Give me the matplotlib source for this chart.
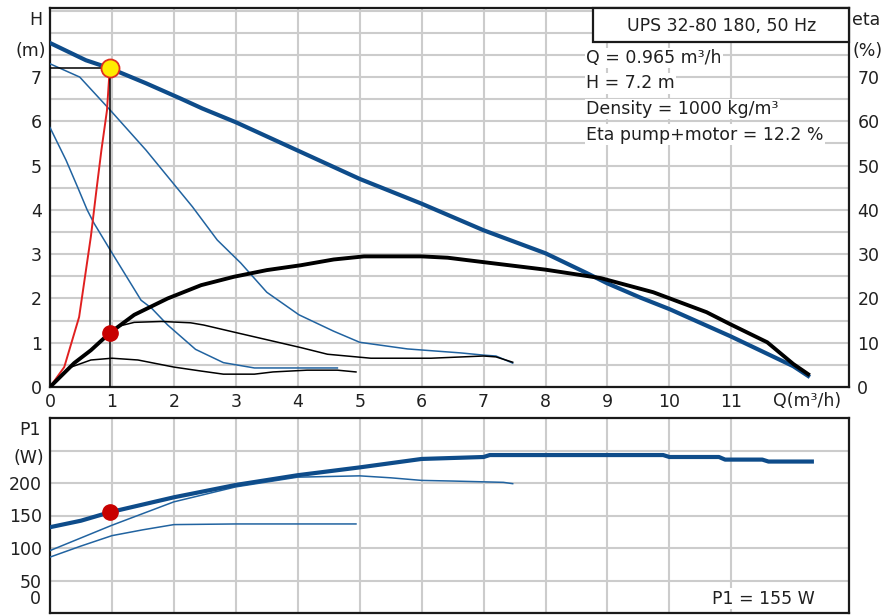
import matplotlib
matplotlib.use("Agg")
import matplotlib.pyplot as plt
from matplotlib.patches import Rectangle
from matplotlib.transforms import blended_transform_factory

plt.rcParams['font.family'] = ['DejaVu Sans']

# operating point
q_op = 0.965
h_op = 7.2
eta_op = 12.2
p_op = 155

# head curves (m)
q_h_max = [0, 0.58, 0.965, 1.55, 2.1, 2.46, 3, 4, 5, 6, 7, 8, 8.67, 9, 9.53, 10, 10.98, 12.0, 12.24]
h_max = [7.77, 7.38, 7.2, 6.86, 6.52, 6.29, 5.98, 5.34, 4.7, 4.14, 3.54, 3.02, 2.57, 2.34, 2.02, 1.76, 1.15, 0.47, 0.25]
q_h_2 = [0, 0.48, 1.0, 1.55, 2.3, 2.7, 3.08, 3.5, 4.02, 4.58, 5.0, 5.77, 6.63, 7.0, 7.2, 7.47]
h_2 = [7.3, 7.0, 6.21, 5.35, 4.07, 3.32, 2.8, 2.14, 1.63, 1.26, 1.01, 0.86, 0.77, 0.72, 0.70, 0.54]
q_h_1 = [0, 0.26, 0.45, 0.6, 0.71, 1.0, 1.47, 1.64, 1.9, 2.35, 2.8, 3.3, 4.05, 4.64]
h_1 = [5.86, 5.12, 4.5, 4.0, 3.7, 3.03, 1.96, 1.78, 1.4, 0.85, 0.55, 0.43, 0.43, 0.43]

# system curve
q_sys = [0, 0.23, 0.47, 0.66, 0.75, 0.83, 0.92, 0.965]
h_sys = [0, 0.45, 1.58, 3.4, 4.45, 5.35, 6.25, 7.2]

# efficiency curves (%)
q_eta_max = [0, 0.39, 0.66, 0.965, 1.36, 1.9, 2.44, 2.97, 3.5, 4.05, 4.58, 5.07, 6, 6.42, 7, 8, 8.89, 9.74, 10.6, 10.98, 11.58, 12, 12.24]
eta_max = [0, 5.4, 8.3, 12.2, 16.3, 20.0, 23.0, 24.9, 26.4, 27.5, 28.8, 29.5, 29.5, 29.2, 28.2, 26.5, 24.6, 21.4, 16.9, 14.2, 10.1, 5.2, 2.9]
q_eta_2 = [0, 0.39, 0.66, 0.965, 1.1, 1.36, 1.8, 2.27, 2.48, 3.0, 4.05, 4.48, 5.18, 6.15, 7.0, 7.2, 7.47]
eta_2 = [0, 5.4, 8.3, 12.0, 13.7, 14.6, 14.8, 14.5, 14.0, 12.3, 8.9, 7.4, 6.5, 6.5, 7.0, 6.8, 5.6]
q_eta_1 = [0, 0.34, 0.66, 1.0, 1.42, 2.0, 2.44, 2.8, 3.3, 3.6, 4.15, 4.64, 4.94]
eta_1 = [0, 4.5, 6.1, 6.5, 6.1, 4.5, 3.6, 2.9, 2.9, 3.4, 3.8, 3.8, 3.4]

# power curves (W)
q_p_max = [0, 0.5, 0.965, 2, 3, 4, 5, 6, 7, 7.1, 9.9, 10.0, 10.8, 10.9, 11.5, 11.6, 12.3]
p_max = [132, 142, 155, 178, 197, 212, 224, 237, 240, 243, 243, 240, 240, 236, 236, 233, 233]
q_p_2 = [0, 1, 2, 3, 4, 5, 5.5, 6, 6.5, 7.32, 7.47]
p_2 = [96, 135, 171, 194, 209, 211, 208, 204, 203, 201, 199]
q_p_1 = [0, 0.5, 1, 1.5, 2, 3, 4, 4.94]
p_1 = [86, 103, 119, 128, 136, 137, 137, 137]

x_ticks = list(range(12))
h_labels = list(range(8))
eta_labels = list(range(0, 80, 10))
p_labels = [50, 100, 150, 200]
info_lines = ["Q = 0.965 m³/h", "H = 7.2 m", "Density = 1000 kg/m³", "Eta pump+motor = 12.2 %"]

blue = '#0e4c8a'
blue_thin = '#2163a0'
grid_c = '#cccccc'
txt_c = '#202020'
fs = 12.5

fig = plt.figure(figsize=(8.91, 6.15), dpi=100)
ax = fig.add_axes([50/891, 1-387/615, 799/891, 379/615])
ax2 = ax.twinx()
axp = fig.add_axes([50/891, 1-613/615, 799/891, 195/615])

xmax = 12.9
hmax = 8.56

for a in (ax, axp):
    a.set_xlim(0, xmax)
    a.set_xticks(x_ticks)
    a.grid(True, color=grid_c, lw=1.5)
    a.set_axisbelow(True)
    for s in a.spines.values():
        s.set_linewidth(1.6)
        s.set_color('#1a1a1a')
    a.tick_params(length=0, labelsize=fs, labelcolor=txt_c, pad=6)

# top panel: grid every 0.5 m, labels on whole metres
ax.set_ylim(0, hmax)
ax.set_yticks([i * 0.5 for i in range(18)])
ax.set_yticklabels([str(int(v)) if v == int(v) and v in h_labels else '' for v in ax.get_yticks()])
ax.set_xticklabels([str(v) for v in x_ticks])
ax.tick_params(axis='x', pad=4)
ax2.set_ylim(0, hmax * 10)
ax2.set_yticks(eta_labels)
ax2.tick_params(length=0, labelsize=fs, labelcolor=txt_c, pad=6)
for s in ax2.spines.values():
    s.set_visible(False)

ax.text(12.22, -0.12, "Q(m³/h)", ha='center', va='top', fontsize=fs, color=txt_c)
ax.text(-0.12, 8.28, "H", ha='right', va='center', fontsize=fs, color=txt_c)
ax.text(-0.06, 7.6, "(m)", ha='right', va='center', fontsize=fs, color=txt_c)
ax.text(xmax + 0.05, 8.28, "eta", ha='left', va='center', fontsize=fs, color=txt_c)
ax.text(xmax + 0.05, 7.6, "(%)", ha='left', va='center', fontsize=fs, color=txt_c)

# curves on top panel
ax.plot(q_h_max, h_max, color=blue, lw=3.0, zorder=4)
ax.plot(q_h_2, h_2, color=blue_thin, lw=1.1, zorder=3)
ax.plot(q_h_1, h_1, color=blue_thin, lw=1.1, zorder=3)
ax2.plot(q_eta_max, eta_max, color='black', lw=2.8, zorder=4)
ax2.plot(q_eta_2, eta_2, color='black', lw=1.1, zorder=3)
ax2.plot(q_eta_1, eta_1, color='black', lw=1.1, zorder=3)
ax.plot(q_sys, h_sys, color='#e02020', lw=1.4, zorder=5)
ax.plot([q_op, q_op], [0, h_op], color='black', lw=1.1, zorder=5)
ax.plot([0, q_op], [h_op, h_op], color='black', lw=1.1, zorder=5)
ax2.plot([q_op], [eta_op], 'o', color='#c80000', ms=11, zorder=6)
ax2.plot([q_op], [h_op * 10], 'o', color='#ffec00', mec='#e03020', mew=1.3, ms=13, zorder=7)

# info box
box = Rectangle((593/891, 1-42/615), 256/891, 34/615, transform=fig.transFigure,
                facecolor='white', edgecolor='#1a1a1a', lw=1.6, zorder=10)
fig.patches.append(box)
fig.text(722/891, 1-26/615, "UPS 32-80 180, 50 Hz", ha='center', va='center', fontsize=fs, color=txt_c, zorder=11)
for i, line in enumerate(info_lines):
    fig.text(586/891, 1-(58 + i * 25.5)/615, line, ha='left', va='center', fontsize=fs, color=txt_c,
             bbox=dict(facecolor='white', edgecolor='none', pad=1.0), zorder=11)

# power panel
axp.set_ylim(0, 300)
axp.set_yticks([0] + p_labels + [250])
axp.set_yticklabels([''] + [str(v) for v in p_labels] + [''])
axp.set_xticklabels([])
trans = blended_transform_factory(axp.transAxes, axp.transData)
axp.text(-0.012, 8, "0", ha='right', va='bottom', fontsize=fs, color=txt_c, transform=trans)
axp.text(-0.012, 282, "P1", ha='right', va='center', fontsize=fs, color=txt_c, transform=trans)
axp.text(-0.007, 238, "(W)", ha='right', va='center', fontsize=fs, color=txt_c, transform=trans)
axp.plot(q_p_max, p_max, color=blue, lw=3.0, zorder=4)
axp.plot(q_p_2, p_2, color=blue_thin, lw=1.1, zorder=3)
axp.plot(q_p_1, p_1, color=blue_thin, lw=1.1, zorder=3)
axp.plot([q_op], [p_op], 'o', color='#c80000', ms=11, zorder=6)
axp.text(12.35, 22, "P1 = 155 W", ha='right', va='center', fontsize=fs, color=txt_c,
         bbox=dict(facecolor='white', edgecolor='none', pad=1.0), zorder=6)

fig.savefig('out.png', dpi=100)
